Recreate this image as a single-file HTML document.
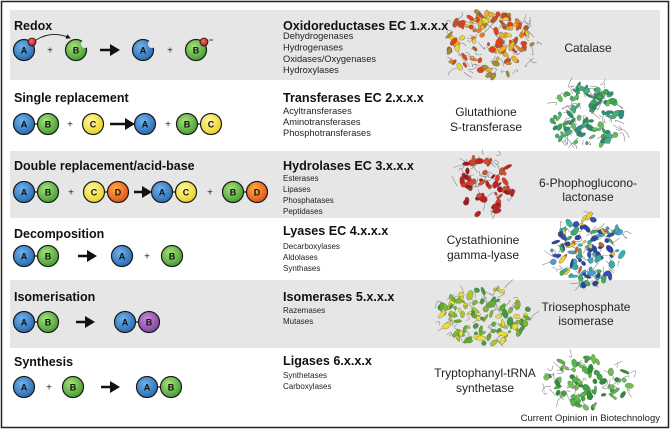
<!DOCTYPE html>
<html><head><meta charset="utf-8"><style>
html,body{margin:0;padding:0;background:#fff;}
svg{display:block;font-family:"Liberation Sans",Arial,sans-serif;}
.t{font-weight:bold;font-size:12.5px;fill:#111;}
.h{font-weight:bold;font-size:12.6px;fill:#111;}
.s{font-size:9.3px;fill:#222;}
.ss{font-size:8px;fill:#222;}
.l{font-size:12px;fill:#222;text-anchor:middle;}
.c{stroke:#1a1a1a;stroke-width:1.2;}
.lt{font-weight:bold;font-size:9px;fill:#111;text-anchor:middle;}
.p{font-size:10px;fill:#222;text-anchor:middle;}
</style></head><body>
<svg id="s" width="670" height="429" viewBox="0 0 670 429" xmlns="http://www.w3.org/2000/svg">
<defs>
<radialGradient id="gA" cx="40%" cy="35%" r="70%"><stop offset="0" stop-color="#6fb3e8"/><stop offset="1" stop-color="#2566b0"/></radialGradient>
<radialGradient id="gB" cx="40%" cy="35%" r="70%"><stop offset="0" stop-color="#a8e07a"/><stop offset="1" stop-color="#3f9a2e"/></radialGradient>
<radialGradient id="gC" cx="40%" cy="35%" r="70%"><stop offset="0" stop-color="#fff7a0"/><stop offset="1" stop-color="#e8d020"/></radialGradient>
<radialGradient id="gD" cx="40%" cy="35%" r="70%"><stop offset="0" stop-color="#ffb040"/><stop offset="1" stop-color="#e04a1a"/></radialGradient>
<radialGradient id="gE" cx="40%" cy="35%" r="70%"><stop offset="0" stop-color="#c78ad8"/><stop offset="1" stop-color="#7a3f9a"/></radialGradient>
<radialGradient id="gR" cx="40%" cy="35%" r="70%"><stop offset="0" stop-color="#ff6a6a"/><stop offset="1" stop-color="#b01818"/></radialGradient>
<marker id="ah" markerWidth="6" markerHeight="6" refX="5" refY="3" orient="auto"><path d="M0,0 L6,3 L0,6 z" fill="#111"/></marker>
</defs>
<rect x="1.5" y="1.5" width="667" height="426" fill="#fff" stroke="#222" stroke-width="1.5"/>
<rect x="10" y="10" width="650" height="70" fill="#e6e6e6"/>
<rect x="10" y="151" width="650" height="67" fill="#e6e6e6"/>
<rect x="10" y="280" width="650" height="68" fill="#e6e6e6"/>
<g id="prot"></g>

<text class="t" x="14" y="30">Redox</text>
<text class="t" x="14" y="102">Single replacement</text>
<text class="t" x="14" y="170">Double replacement/acid-base</text>
<text class="t" x="14" y="238">Decomposition</text>
<text class="t" x="14" y="301">Isomerisation</text>
<text class="t" x="14" y="366">Synthesis</text>

<g id="mol"></g>

<text class="h" x="283" y="30">Oxidoreductases EC 1.x.x.x</text>
<text class="s" x="283" y="39">Dehydrogenases</text>
<text class="s" x="283" y="50.5">Hydrogenases</text>
<text class="s" x="283" y="62">Oxidases/Oxygenases</text>
<text class="s" x="283" y="73">Hydroxylases</text>
<text class="h" x="283" y="102">Transferases EC 2.x.x.x</text>
<text class="s" x="283" y="114">Acyltransferases</text>
<text class="s" x="283" y="125">Aminotransferases</text>
<text class="s" x="283" y="136">Phosphotransferases</text>
<text class="h" x="283" y="170">Hydrolases EC 3.x.x.x</text>
<text class="ss" x="283" y="181">Esterases</text>
<text class="ss" x="283" y="192">Lipases</text>
<text class="ss" x="283" y="203">Phosphatases</text>
<text class="ss" x="283" y="214">Peptidases</text>
<text class="h" x="283" y="235">Lyases EC 4.x.x.x</text>
<text class="ss" x="283" y="249">Decarboxylases</text>
<text class="ss" x="283" y="260">Aldolases</text>
<text class="ss" x="283" y="271">Synthases</text>
<text class="h" x="283" y="301">Isomerases 5.x.x.x</text>
<text class="ss" x="283" y="313">Razemases</text>
<text class="ss" x="283" y="324">Mutases</text>
<text class="h" x="283" y="365">Ligases 6.x.x.x</text>
<text class="ss" x="283" y="378">Synthetases</text>
<text class="ss" x="283" y="389">Carboxylases</text>

<text class="l" x="588" y="52">Catalase</text>
<text class="l" x="486" y="116">Glutathione</text>
<text class="l" x="486" y="131">S-transferase</text>
<text class="l" x="588" y="187">6-Phophoglucono-</text>
<text class="l" x="588" y="201">lactonase</text>
<text class="l" x="483" y="244">Cystathionine</text>
<text class="l" x="483" y="259">gamma-lyase</text>
<text class="l" x="586" y="311">Triosephosphate</text>
<text class="l" x="586" y="325">isomerase</text>
<text class="l" x="485" y="377">Tryptophanyl-tRNA</text>
<text class="l" x="485" y="392">synthetase</text>
<text x="660" y="421" style="font-size:9.5px;fill:#222;text-anchor:end">Current Opinion in Biotechnology</text>
</svg>
<script>
var NS="http://www.w3.org/2000/svg",mol=document.getElementById("mol");
function el(t,a){var e=document.createElementNS(NS,t);for(var k in a)e.setAttribute(k,a[k]);return e;}
var G={A:"gA",B:"gB",C:"gC",D:"gD",E:"gE"};
function circ(x,y,L,g){mol.appendChild(el("circle",{cx:x,cy:y,r:10.5,fill:"url(#"+(g||G[L])+")","class":"c"}));var t=el("text",{x:x,y:y+3.3,"class":"lt"});t.textContent=L;mol.appendChild(t);}
function pair(x,y,a,b,gb){mol.appendChild(el("line",{x1:x,y1:y,x2:x+24,y2:y,stroke:"#111","stroke-width":1.2}));circ(x,y,a);circ(x+24,y,b,gb);}
function plus(x,y){var t=el("text",{x:x,y:y+3.5,"class":"p"});t.textContent="+";mol.appendChild(t);}
function arr(x1,x2,y){mol.appendChild(el("line",{x1:x1,y1:y,x2:x2-8,y2:y,stroke:"#111","stroke-width":2.5}));mol.appendChild(el("path",{d:"M"+(x2-10)+","+(y-6)+" L"+x2+","+y+" L"+(x2-10)+","+(y+6)+"z",fill:"#111"}));}
circ(24,50,"A");mol.appendChild(el("circle",{cx:32,cy:42,r:4,fill:"url(#gR)",stroke:"#111","stroke-width":0.8}));
mol.appendChild(el("path",{d:"M36,40 Q52,30 70,38",fill:"none",stroke:"#111","stroke-width":0.8,"marker-end":"url(#ah)"}));
plus(50,50);circ(76,50,"B");mol.appendChild(el("circle",{cx:85,cy:44,r:4,fill:"#e6e6e6"}));
arr(100,120,50);
circ(143,50,"A");mol.appendChild(el("circle",{cx:152,cy:44,r:4,fill:"#e6e6e6"}));
plus(170,50);circ(196,50,"B");mol.appendChild(el("circle",{cx:204,cy:42,r:4,fill:"url(#gR)",stroke:"#111","stroke-width":0.8}));
mol.appendChild(el("line",{x1:209,y1:40,x2:213,y2:40,stroke:"#111","stroke-width":0.8}));
pair(24,124,"A","B");plus(70,124);circ(93,124,"C");arr(110,135,124);circ(145,124,"A");plus(168,124);pair(187,124,"B","C");
pair(24,192,"A","B");plus(71,192);pair(94,192,"C","D");arr(134,152,192);pair(162,192,"A","C");plus(210,192);pair(233,192,"B","D");
pair(24,256,"A","B");arr(78,97,256);circ(122,256,"A");plus(147,256);circ(172,256,"B");
pair(24,322,"A","B");arr(76,95,322);pair(125,322,"A","B","gE");
circ(24,387,"A");plus(49,387);circ(73,387,"B");arr(101,120,387);pair(147,387,"A","B");
var seed=7;function r(){seed=(seed*16807)%2147483647;return seed/2147483647;}
var pg=document.getElementById("prot");
function prot(x0,y0,w,h,cols,n){
 for(var i=0;i<n*0.6;i++){var a=r()*6.28,rr=Math.sqrt(r())*0.5;var x=x0+w/2+Math.cos(a)*rr*w,y=y0+h/2+Math.sin(a)*rr*h;pg.appendChild(el("path",{d:"M"+x+","+y+" q"+(r()*16-8)+","+(r()*16-8)+" "+(r()*18-9)+","+(r()*18-9),fill:"none",stroke:"#888","stroke-width":0.6}));}
 for(var i=0;i<n;i++){var a=r()*6.28,rr=Math.sqrt(r())*0.46;var x=x0+w/2+Math.cos(a)*rr*w,y=y0+h/2+Math.sin(a)*rr*h;
  var c=cols[Math.floor(r()*cols.length)];
  pg.appendChild(el("ellipse",{cx:x,cy:y,rx:1.5+r()*3.5,ry:1.2+r()*1.8,fill:c,stroke:"#555","stroke-width":0.3,transform:"rotate("+(r()*180)+" "+x+" "+y+")"}));}
}
prot(440,8,100,72,["#e0401a","#f07a20","#f0b020","#e8d830","#c0502a","#a09030"],110);
prot(546,82,80,70,["#3aa850","#40b080","#2a9080","#60c060","#2a8a6a"],90);
prot(455,152,62,66,["#c02020","#e03a2a","#a01818","#d05030"],60);
prot(548,213,80,76,["#2a44a0","#3050b8","#2a44a0","#40a0d0","#e8d030","#40b060","#d06020","#30b0b0"],110);
prot(435,284,98,62,["#a8c830","#60b030","#e8e030","#40a040","#80b830"],100);
prot(542,352,92,58,["#3aa840","#50b848","#2a9038","#70c050"],70);
</script>
</body></html>
